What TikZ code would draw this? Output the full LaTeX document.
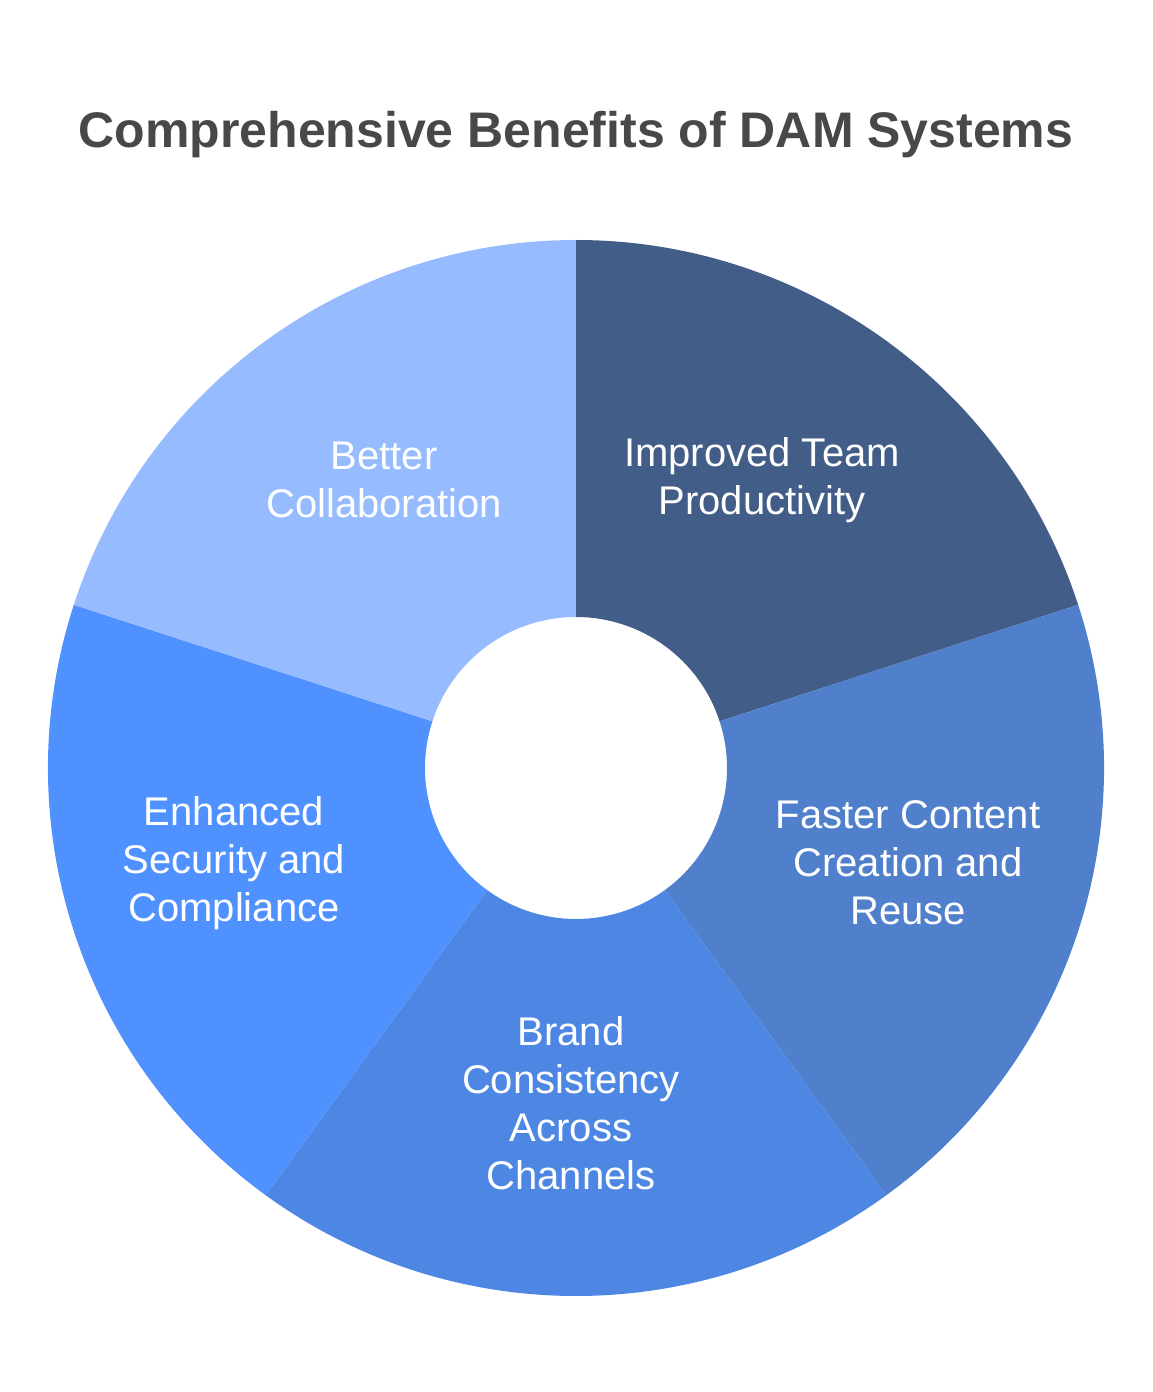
\documentclass[tikz,border=0pt]{standalone}
\usepackage{fontspec}
\setmainfont{Liberation Sans}
\usetikzlibrary{positioning}

\definecolor{teamcol}{HTML}{425D87}
\definecolor{fastcol}{HTML}{5080CC}
\definecolor{brandcol}{HTML}{4D87E3}
\definecolor{securecol}{HTML}{4F91FF}
\definecolor{collabcol}{HTML}{96BCFF}
\definecolor{titlecol}{HTML}{484848}

\begin{document}
\begin{tikzpicture}[x=1pt,y=1pt,
  seglabel/.style={text=white, align=center, font=\fontsize{40}{48}\selectfont},
  ringtitle/.style={text=titlecol, font=\fontsize{50}{58}\selectfont\bfseries}]

    \useasboundingbox[fill=white] (-576,-624) rectangle (577,768);

    \node (center) at (0,0) {};

    % ring segments, outer radius 528, inner radius 151
    \fill[teamcol] (90:151) -- (90:528) arc[start angle=90, end angle=18, radius=528]
    -- (18:151) arc[start angle=18, end angle=90, radius=151] -- cycle;
    \fill[fastcol] (18:151) -- (18:528) arc[start angle=18, end angle=-54, radius=528]
    -- (-54:151) arc[start angle=-54, end angle=18, radius=151] -- cycle;
    \fill[brandcol] (-54:151) -- (-54:528) arc[start angle=-54, end angle=-126, radius=528]
    -- (-126:151) arc[start angle=-126, end angle=-54, radius=151] -- cycle;
    \fill[securecol] (-126:151) -- (-126:528) arc[start angle=-126, end angle=-198, radius=528]
    -- (-198:151) arc[start angle=-198, end angle=-126, radius=151] -- cycle;
    \fill[collabcol] (162:151) -- (162:528) arc[start angle=162, end angle=90, radius=528]
    -- (90:151) arc[start angle=90, end angle=162, radius=151] -- cycle;

    \node[ringtitle] (title) at (0,633) {Comprehensive Benefits of DAM Systems};

    \node[seglabel] (team) at (186,288) {Improved Team\\Productivity};
    \node[seglabel] (fast) at (332,-95) {Faster Content\\Creation and\\Reuse};
    \node[seglabel] (brand) at (-5,-335) {Brand\\Consistency\\Across\\Channels};
    \node[seglabel] (secure) at (-342,-95) {Enhanced\\Security and\\Compliance};
    \node[seglabel] (collab) at (-192,288) {Better\\Collaboration};
  \end{tikzpicture}
\end{document}
